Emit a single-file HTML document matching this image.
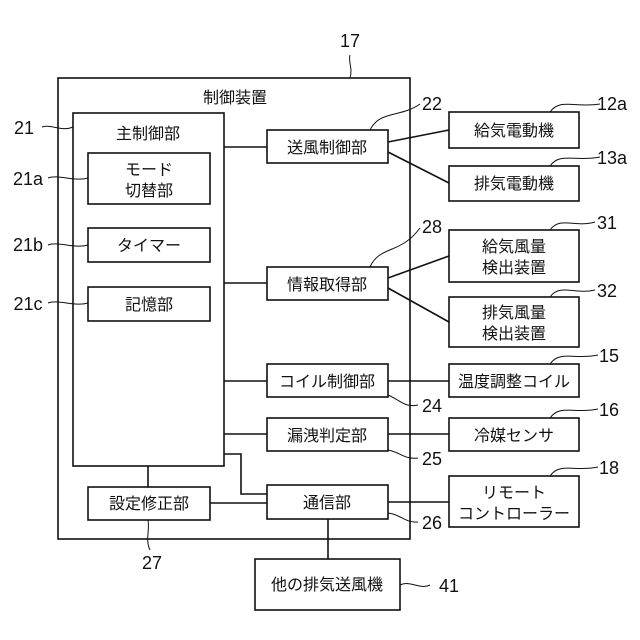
<!DOCTYPE html>
<html><head><meta charset="utf-8"><style>
html,body{margin:0;padding:0;background:#fff}
svg{display:block}
text{font-family:"Liberation Sans","Noto Sans CJK JP",sans-serif;font-size:16px;fill:#111}
.n{font-size:18px}
</style></head><body>
<svg width="640" height="640" viewBox="0 0 640 640">
<g fill="none" stroke="#111" stroke-width="1.6">
<rect x="58" y="78" width="352" height="461"/>
<rect x="73" y="113" width="151" height="353"/>
<rect x="88" y="153" width="122" height="51"/>
<rect x="88" y="228" width="122" height="34"/>
<rect x="88" y="287" width="122" height="34"/>
<rect x="88" y="487" width="122" height="33"/>
<rect x="267" y="130" width="121" height="33"/>
<rect x="267" y="267" width="121" height="33"/>
<rect x="267" y="364" width="121" height="33"/>
<rect x="267" y="418" width="121" height="33"/>
<rect x="267" y="485" width="121" height="34"/>
<rect x="449" y="112" width="130" height="36"/>
<rect x="449" y="166" width="130" height="35"/>
<rect x="449" y="230" width="130" height="52"/>
<rect x="449" y="297" width="130" height="50"/>
<rect x="449" y="364" width="130" height="33"/>
<rect x="449" y="418" width="130" height="33"/>
<rect x="449" y="476" width="130" height="51"/>
<rect x="255" y="559" width="145" height="51"/>
<path d="M224 147H267M224 283H267M224 381H267M224 434H267M224 454H241V494H267M148 466V487M210 503H267M328 519V559M388 502H449M388 381H449M388 434H449"/>
<path d="M388 142L449 130M388 152L449 183M388 278L449 256M388 288L449 322"/>
<path d="M350 55C348 62 353 68 350 78" stroke-width="1"/>
<path d="M370 130C380 110 400 118 420 104" stroke-width="1"/>
<path d="M550 112C560 98 575 108 600 104" stroke-width="1"/>
<path d="M550 166C560 152 575 162 600 157" stroke-width="1"/>
<path d="M370 267C380 245 400 255 420 228" stroke-width="1"/>
<path d="M550 230C560 216 575 228 595 222" stroke-width="1"/>
<path d="M550 297C560 283 575 295 595 290" stroke-width="1"/>
<path d="M550 364C560 350 575 360 598 355" stroke-width="1"/>
<path d="M550 418C560 404 575 414 598 409" stroke-width="1"/>
<path d="M550 476C560 462 575 472 598 467" stroke-width="1"/>
<path d="M388 395C400 400 405 408 418 405" stroke-width="1"/>
<path d="M388 450C400 452 405 460 418 458" stroke-width="1"/>
<path d="M388 513C400 514 405 523 418 522" stroke-width="1"/>
<path d="M400 585C410 580 420 590 430 585" stroke-width="1"/>
<path d="M148 520C150 530 145 540 150 550" stroke-width="1"/>
<path d="M42 127C52 124 62 132 73 127" stroke-width="1"/>
<path d="M48 178C58 174 75 182 88 178" stroke-width="1"/>
<path d="M48 245C58 241 75 249 88 245" stroke-width="1"/>
<path d="M48 303C58 299 75 307 88 303" stroke-width="1"/>
</g>
<g text-anchor="middle">
<text x="235" y="103">制御装置</text>
<text x="148" y="139">主制御部</text>
<text x="149" y="175">モード</text>
<text x="149" y="196">切替部</text>
<text x="149" y="251">タイマー</text>
<text x="149" y="310">記憶部</text>
<text x="149" y="509">設定修正部</text>
<text x="327" y="153">送風制御部</text>
<text x="327" y="290">情報取得部</text>
<text x="327" y="387">コイル制御部</text>
<text x="327" y="441">漏洩判定部</text>
<text x="327" y="508">通信部</text>
<text x="514" y="136">給気電動機</text>
<text x="514" y="189">排気電動機</text>
<text x="514" y="252">給気風量</text>
<text x="514" y="273">検出装置</text>
<text x="514" y="318">排気風量</text>
<text x="514" y="339">検出装置</text>
<text x="514" y="387">温度調整コイル</text>
<text x="514" y="441">冷媒センサ</text>
<text x="514" y="498">リモート</text>
<text x="514" y="519">コントローラー</text>
<text x="327" y="590">他の排気送風機</text>
<text class="n" x="350" y="47">17</text>
<text class="n" x="432" y="110">22</text>
<text class="n" x="432" y="233">28</text>
<text class="n" x="432" y="412">24</text>
<text class="n" x="432" y="465">25</text>
<text class="n" x="432" y="529">26</text>
<text class="n" x="152" y="569">27</text>
<text class="n" x="612" y="110">12a</text>
<text class="n" x="612" y="164">13a</text>
<text class="n" x="607" y="229">31</text>
<text class="n" x="607" y="297">32</text>
<text class="n" x="609" y="362">15</text>
<text class="n" x="609" y="416">16</text>
<text class="n" x="609" y="474">18</text>
<text class="n" x="449" y="592">41</text>
<text class="n" x="24" y="134">21</text>
<text class="n" x="28" y="185">21a</text>
<text class="n" x="28" y="251">21b</text>
<text class="n" x="28" y="310">21c</text>
</g>
</svg>
</body></html>
